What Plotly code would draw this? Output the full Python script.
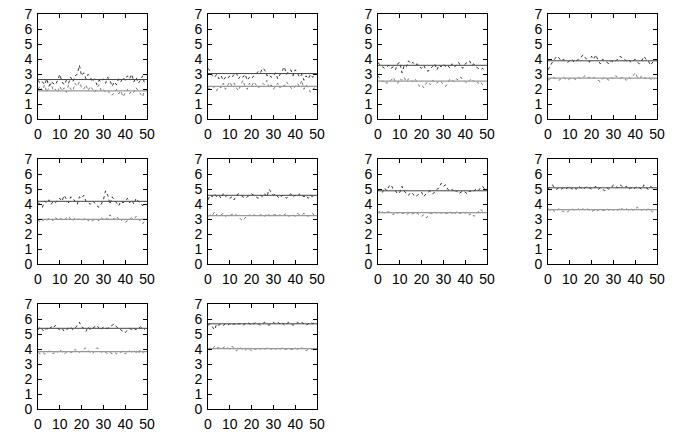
import plotly.graph_objects as go
from plotly.subplots import make_subplots

x = list(range(50))
x_line = [0, 50]

# livelli delle linee orizzontali (superiore, inferiore) per pannello
upper_level = [2.65, 3.05, 3.6, 3.9, 4.2, 4.6, 4.9, 5.1, 5.4, 5.7]
lower_level = [1.9, 2.2, 2.55, 2.75, 3.0, 3.25, 3.45, 3.65, 3.85, 4.05]

# serie rumorose, lette a occhio dal grafico
p1_up = [2.6, 2.4, 2.5, 2.3, 2.7, 2.2, 2.5, 2.4, 2.3, 2.6, 3.0, 2.5, 2.3, 2.6, 2.4, 2.8, 2.5, 2.9, 3.0, 3.6,
         2.9, 3.1, 2.7, 3.0, 2.8, 2.5, 2.7, 2.3, 2.6, 2.5, 2.7, 2.4, 2.8, 2.6, 2.2, 2.5, 2.3, 2.7, 2.5, 2.8,
         2.6, 2.9, 2.7, 3.0, 2.5, 2.8, 2.4, 2.6, 2.9, 2.3]
p1_lo = [2.0, 2.2, 1.9, 2.3, 1.8, 2.1, 2.4, 1.9, 2.0, 1.8, 2.2, 1.9, 2.1, 1.8, 2.3, 2.0, 1.9, 2.4, 2.2, 2.5,
         2.1, 2.0, 2.3, 1.9, 2.2, 2.0, 1.8, 2.1, 2.3, 1.9, 2.0, 1.8, 1.9, 1.7, 1.6, 1.8, 2.0, 1.7, 1.9, 1.5,
         1.8, 2.0, 1.7, 1.9, 1.8, 2.1, 1.9, 1.7, 1.5, 2.0]
p2_up = [3.4, 3.2, 2.9, 2.8, 3.0, 2.7, 2.9, 2.6, 2.8, 2.7, 2.9, 2.8, 3.0, 3.1, 2.7, 2.9, 2.8, 3.0, 2.6, 2.8,
         2.7, 2.9, 3.0, 3.2, 3.1, 3.4, 3.3, 2.9, 3.0, 2.8, 2.9, 3.1, 2.7, 3.0, 3.3, 3.5, 3.0, 3.2, 3.3, 2.9,
         3.3, 3.1, 2.8, 3.0, 2.6, 2.9, 2.7, 3.0, 2.8, 3.0]
p2_lo = [2.1, 2.0, 2.2, 2.1, 1.9, 2.2, 2.1, 2.4, 2.0, 2.3, 2.5, 2.2, 2.4, 2.1, 1.9, 2.3, 2.6, 2.2, 2.0, 2.4,
         2.2, 2.5, 2.3, 2.1, 2.2, 2.4, 2.3, 2.6, 2.1, 2.3, 2.0, 2.2, 2.4, 2.1, 2.3, 2.2, 2.5, 2.3, 2.1, 2.0,
         2.2, 2.4, 2.2, 2.6, 2.0, 2.3, 2.1, 1.8, 2.0, 2.1]
p3_up = [3.8, 3.6, 3.5, 3.4, 3.5, 3.6, 3.4, 3.5, 3.3, 3.7, 3.8, 3.1, 3.6, 3.5, 3.9, 3.7, 3.8, 3.6, 3.7, 3.5,
         3.4, 3.6, 3.3, 3.2, 3.4, 3.5, 3.7, 3.3, 3.6, 3.5, 3.7, 3.5, 3.6, 3.4, 3.7, 3.5, 3.6, 3.8, 3.5, 3.4,
         3.7, 3.8, 3.9, 3.6, 3.7, 3.5, 3.4, 3.3, 3.4, 3.2]
p3_lo = [2.9, 2.7, 2.5, 2.6, 2.4, 2.5, 2.6, 2.8, 2.5, 2.4, 2.7, 2.6, 2.8, 2.5, 2.7, 2.6, 2.5, 2.7, 2.4, 2.2,
         2.3, 2.1, 2.4, 2.5, 2.3, 2.6, 2.5, 2.4, 2.6, 2.5, 2.3, 2.2, 2.4, 2.7, 2.6, 2.5, 2.7, 2.6, 2.8, 2.6,
         2.5, 2.4, 2.6, 2.7, 2.5, 2.6, 2.4, 2.5, 2.3, 2.4]
p4_up = [3.3, 3.6, 3.8, 4.0, 4.2, 4.1, 3.9, 4.0, 3.9, 3.8, 3.9, 4.0, 3.8, 3.9, 4.0, 4.1, 4.3, 4.1, 4.0, 3.8,
         4.2, 4.0, 4.3, 3.9, 3.7, 4.0, 3.9, 3.8, 3.7, 3.9, 3.8, 3.9, 4.0, 4.2, 4.1, 4.0, 3.9, 4.0, 3.8, 3.9,
         4.0, 3.8, 3.7, 3.9, 4.2, 4.0, 3.9, 3.6, 3.8, 3.9]
p4_lo = [2.6, 2.7, 2.8, 2.75, 2.7, 2.6, 2.7, 2.8, 2.7, 2.6, 2.7, 2.8, 2.7, 2.65, 2.8, 2.7, 2.8, 2.9, 2.75, 2.8,
         2.7, 2.8, 2.7, 2.6, 2.5, 2.7, 2.8, 2.7, 2.6, 2.8, 2.7, 2.9, 2.8, 2.7, 2.8, 2.7, 2.6, 2.8, 2.7, 2.9,
         3.1, 2.8, 2.7, 2.9, 2.8, 2.7, 2.8, 2.7, 2.6, 2.7]
p5_up = [4.1, 4.0, 3.8, 4.2, 4.1, 4.3, 4.0, 4.2, 4.1, 4.3, 4.4, 4.2, 4.6, 4.3, 4.1, 4.5, 4.4, 4.2, 4.0, 4.5,
         4.4, 4.6, 4.2, 4.1, 4.0, 4.2, 4.1, 3.9, 3.8, 4.0, 4.3, 4.9, 4.6, 4.0, 4.5, 4.3, 4.1, 3.9, 4.2, 4.1,
         4.2, 4.4, 4.1, 4.3, 4.0, 4.4, 4.2, 4.1, 3.9, 4.2]
p5_lo = [3.0, 2.8, 2.9, 3.0, 2.9, 3.1, 3.0, 2.9, 3.1, 3.0, 3.1, 3.0, 2.9, 3.1, 3.2, 3.0, 2.9, 3.1, 3.0, 3.0,
         2.9, 3.0, 3.1, 2.9, 3.0, 2.9, 3.0, 3.0, 2.9, 3.1, 3.0, 3.1, 3.0, 3.3, 3.1, 3.0, 3.2, 3.0, 2.9, 3.0,
         2.8, 2.9, 3.0, 3.1, 3.0, 3.2, 3.0, 2.9, 2.7, 2.9]
p6_up = [4.3, 4.6, 4.5, 4.7, 4.5, 4.6, 4.4, 4.7, 4.5, 4.6, 4.4, 4.5, 4.3, 4.6, 4.7, 4.6, 4.5, 4.4, 4.5, 4.6,
         4.7, 4.6, 4.5, 4.4, 4.6, 4.5, 4.7, 4.5, 5.0, 4.8, 4.6, 4.7, 4.5, 4.4, 4.6, 4.5, 4.4, 4.6, 4.7, 4.5,
         4.6, 4.5, 4.7, 4.6, 4.5, 4.6, 4.4, 4.6, 4.5, 4.7]
p6_lo = [3.2, 3.3, 3.25, 3.5, 3.3, 3.2, 3.3, 3.4, 3.2, 3.3, 3.25, 3.3, 3.4, 3.3, 3.2, 3.0, 2.9, 3.1, 3.2, 3.3,
         3.2, 3.3, 3.25, 3.2, 3.3, 3.3, 3.2, 3.4, 3.3, 3.2, 3.3, 3.3, 3.2, 3.3, 3.2, 3.3, 3.4, 3.2, 3.3, 3.3,
         3.2, 3.4, 3.3, 3.3, 3.4, 3.3, 3.2, 3.3, 3.4, 3.2]
p7_up = [4.9, 5.0, 4.8, 5.1, 4.9, 5.2, 5.3, 5.0, 4.9, 4.7, 4.8, 5.2, 4.9, 4.7, 4.6, 4.8, 4.7, 4.5, 4.6, 4.7,
         4.8, 4.5, 4.7, 4.8, 4.9, 4.7, 4.8, 5.0, 5.1, 5.4, 5.2, 5.3, 5.0, 4.9, 5.0, 4.8, 4.9, 4.7, 4.8, 4.9,
         4.8, 4.7, 4.9, 4.8, 4.9, 5.0, 4.9, 5.1, 5.2, 5.0]
p7_lo = [3.4, 3.6, 3.5, 3.4, 3.5, 3.5, 3.4, 3.3, 3.5, 3.4, 3.5, 3.4, 3.4, 3.3, 3.4, 3.3, 3.4, 3.3, 3.4, 3.3,
         3.2, 3.3, 3.1, 3.2, 3.4, 3.4, 3.5, 3.4, 3.5, 3.4, 3.5, 3.4, 3.4, 3.5, 3.4, 3.3, 3.5, 3.4, 3.4, 3.5,
         3.4, 3.5, 3.3, 3.4, 3.2, 3.3, 3.5, 3.7, 3.5, 3.4]
p8_up = [5.0, 5.2, 5.3, 5.1, 5.0, 5.1, 5.0, 5.1, 5.0, 5.1, 5.2, 5.0, 5.1, 5.0, 5.2, 5.1, 5.0, 5.1, 5.2, 5.1,
         5.0, 5.1, 5.2, 5.0, 5.1, 5.0, 4.9, 5.1, 5.0, 5.1, 5.3, 5.2, 5.1, 5.3, 5.2, 5.1, 5.2, 5.0, 5.1, 5.0,
         5.1, 5.2, 5.1, 5.0, 5.3, 5.1, 5.0, 5.2, 5.1, 5.0]
p8_lo = [3.7, 3.6, 3.7, 3.5, 3.6, 3.7, 3.6, 3.5, 3.6, 3.5, 3.6, 3.7, 3.6, 3.6, 3.7, 3.6, 3.7, 3.6, 3.7, 3.6,
         3.5, 3.6, 3.5, 3.6, 3.7, 3.6, 3.6, 3.7, 3.6, 3.7, 3.6, 3.7, 3.6, 3.8, 3.7, 3.6, 3.7, 3.6, 3.7, 3.6,
         3.7, 3.8, 3.7, 3.6, 3.7, 3.6, 3.7, 3.6, 3.5, 3.6]
p9_up = [5.3, 5.5, 5.3, 5.2, 5.4, 5.3, 5.5, 5.4, 5.6, 5.4, 5.3, 5.4, 5.2, 5.3, 5.4, 5.5, 5.3, 5.4, 5.6, 5.8,
         5.5, 5.4, 5.2, 5.5, 5.3, 5.4, 5.5, 5.6, 5.4, 5.3, 5.5, 5.4, 5.4, 5.5, 5.6, 5.7, 5.5, 5.4, 5.3, 5.2,
         5.1, 5.3, 5.4, 5.3, 5.4, 5.3, 5.4, 5.5, 5.4, 5.3]
p9_lo = [3.8, 3.7, 3.8, 3.7, 3.7, 3.9, 3.8, 3.7, 3.9, 3.8, 4.0, 3.8, 3.7, 3.8, 3.9, 3.8, 3.8, 4.0, 3.9, 3.8,
         3.9, 4.0, 4.1, 3.9, 3.8, 3.7, 3.9, 4.1, 4.0, 3.8, 3.9, 3.8, 3.7, 3.8, 3.7, 3.8, 3.7, 3.8, 3.8, 3.9,
         3.7, 3.8, 3.9, 3.8, 3.9, 3.8, 3.7, 4.0, 3.8, 3.7]
p10_up = [5.6, 5.7, 5.5, 5.3, 5.7, 5.6, 5.7, 5.6, 5.7, 5.6, 5.7, 5.6, 5.7, 5.6, 5.7, 5.7, 5.6, 5.7, 5.8, 5.7,
          5.6, 5.7, 5.8, 5.7, 5.6, 5.7, 5.8, 5.7, 5.6, 5.7, 5.8, 5.7, 5.8, 5.7, 5.8, 5.6, 5.7, 5.8, 5.7, 5.6,
          5.7, 5.8, 5.7, 5.8, 5.7, 5.6, 5.7, 5.8, 5.7, 5.8]
p10_lo = [4.0, 4.1, 4.0, 4.2, 4.1, 4.1, 4.0, 4.1, 4.2, 4.1, 4.0, 4.2, 4.1, 3.9, 4.0, 4.1, 4.0, 3.9, 4.1, 4.0,
          3.9, 4.0, 4.0, 4.1, 4.0, 4.1, 4.0, 4.1, 4.1, 4.0, 4.1, 4.0, 4.1, 4.0, 4.1, 4.0, 4.0, 4.1, 4.0, 4.0,
          4.1, 4.0, 4.0, 4.1, 4.0, 3.9, 4.0, 4.0, 4.0, 3.9]

series_up = [p1_up, p2_up, p3_up, p4_up, p5_up, p6_up, p7_up, p8_up, p9_up, p10_up]
series_lo = [p1_lo, p2_lo, p3_lo, p4_lo, p5_lo, p6_lo, p7_lo, p8_lo, p9_lo, p10_lo]

x_ticks = [0, 10, 20, 30, 40, 50]
y_ticks = [0, 1, 2, 3, 4, 5, 6, 7]

# figura a tutta pagina (margine del body tolto con post_script)
W, H = 681, 436
fig = make_subplots(rows=3, cols=4)

for i in range(10):
    r, c = i // 4 + 1, i % 4 + 1
    fig.add_trace(go.Scatter(x=x, y=series_up[i], mode="lines",
                             line=dict(color="#000000", width=0.8, dash="3px,3px")), row=r, col=c)
    fig.add_trace(go.Scatter(x=x, y=series_lo[i], mode="lines",
                             line=dict(color="#555555", width=0.8, dash="3px,3px")), row=r, col=c)
    fig.add_trace(go.Scatter(x=x_line, y=[upper_level[i]] * 2, mode="lines",
                             line=dict(color="#444444", width=1)), row=r, col=c)
    fig.add_trace(go.Scatter(x=x_line, y=[lower_level[i]] * 2, mode="lines",
                             line=dict(color="#999999", width=1.2)), row=r, col=c)

# domini in pixel, stile gnuplot
for i in range(12):
    r, c = i // 4, i % 4
    left, right = 38 + 170 * c, 147 + 170 * c
    top, bottom = 14.3 + 145 * r, 119.3 + 145 * r
    n = "" if i == 0 else str(i + 1)
    visible = i < 10
    common = dict(
        ticks="inside", ticklen=4, tickcolor="black", mirror="allticks",
        showline=True, linecolor="black", linewidth=1, showgrid=False, zeroline=False,
        visible=visible, fixedrange=True, automargin=False, ticklabelstandoff=2,
        ticklabeloverflow="allow",
    )
    fig.layout["xaxis" + n].update(domain=[left / W, right / W], range=[0, 50],
                                   tickvals=x_ticks, **common)
    fig.layout["yaxis" + n].update(domain=[1 - bottom / H, 1 - top / H], range=[0, 7],
                                   tickvals=y_ticks, **common)

fig.update_layout(
    width=W, height=H,
    margin=dict(l=0, r=0, t=0, b=0),
    showlegend=False,
    plot_bgcolor="white", paper_bgcolor="white",
    font=dict(family="Liberation Sans, Arial, sans-serif", size=14, color="black"),
)

fig.write_html("out.html", config={"displayModeBar": False},
               post_script="document.body.style.margin='0';")
